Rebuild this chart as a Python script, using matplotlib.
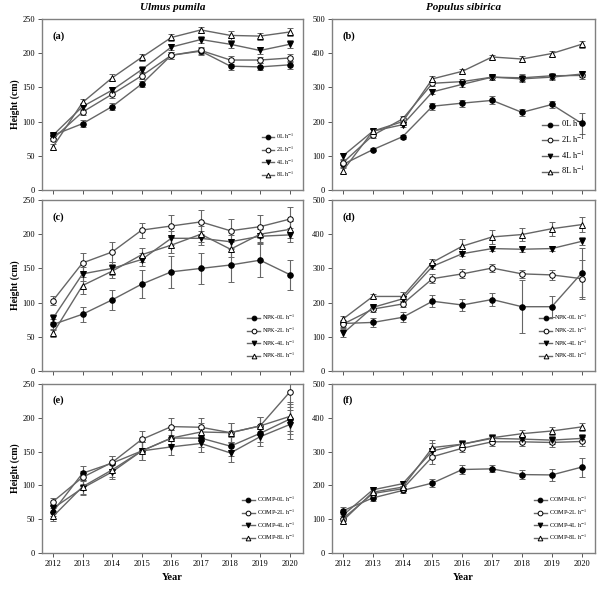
import matplotlib
matplotlib.use('Agg')
import matplotlib.pyplot as plt
from matplotlib.lines import Line2D

plt.rcParams['font.family'] = ['Liberation Serif', 'DejaVu Serif']
plt.rcParams['mathtext.fontset'] = 'stix'

years = [2012, 2013, 2014, 2015, 2016, 2017, 2018, 2019, 2020]

# (a) Ulmus pumila - water
a_0 = [80, 97, 122, 155, 197, 203, 181, 180, 183]
a_2 = [75, 114, 140, 167, 197, 204, 190, 190, 193]
a_4 = [80, 122, 146, 176, 209, 220, 213, 204, 213]
a_8 = [63, 128, 164, 194, 223, 234, 226, 225, 231]
a_err = [4, 5, 5, 5, 5, 5, 6, 5, 6]

# (b) Populus sibirica - water
b_0 = [75, 118, 156, 245, 254, 262, 227, 250, 195]
b_0e = [8, 5, 6, 10, 10, 12, 10, 10, 30]
b_2 = [80, 160, 208, 312, 317, 330, 328, 334, 335]
b_4 = [100, 172, 191, 287, 309, 330, 325, 330, 339]
b_8 = [57, 172, 200, 325, 347, 389, 383, 399, 426]
b_err = [8, 7, 7, 7, 7, 7, 10, 8, 10]

# (c) Ulmus pumila - NPK
c_0 = [68, 83, 104, 127, 145, 150, 155, 162, 141]
c_0e = [8, 11, 15, 20, 23, 23, 25, 24, 22]
c_2 = [103, 158, 174, 206, 212, 218, 205, 211, 222]
c_2e = [7, 14, 14, 11, 16, 17, 17, 17, 18]
c_4 = [77, 142, 150, 163, 194, 194, 189, 197, 199]
c_4e = [6, 10, 10, 10, 10, 10, 10, 10, 10]
c_8 = [55, 125, 146, 170, 184, 200, 178, 200, 207]
c_8e = [6, 12, 10, 10, 12, 12, 12, 12, 12]

# (d) Populus sibirica - NPK
d_0 = [139, 142, 157, 204, 193, 209, 188, 188, 286]
d_0e = [10, 12, 15, 18, 18, 20, 77, 30, 75]
d_2 = [137, 181, 196, 270, 284, 301, 284, 281, 270]
d_2e = [10, 8, 8, 14, 13, 12, 12, 14, 55]
d_4 = [110, 186, 211, 306, 343, 358, 356, 358, 379]
d_4e = [12, 8, 8, 8, 8, 8, 8, 8, 12]
d_8 = [152, 218, 218, 318, 365, 392, 399, 416, 428]
d_8e = [8, 6, 12, 10, 20, 20, 20, 20, 22]

# (e) Ulmus pumila - compost
e_0 = [61, 118, 133, 151, 170, 170, 158, 177, 198]
e_2 = [76, 112, 134, 168, 187, 186, 178, 188, 238]
e_4 = [66, 96, 120, 151, 157, 162, 148, 172, 190]
e_8 = [54, 98, 123, 151, 170, 179, 178, 188, 202]
e_err = [6, 10, 10, 13, 12, 13, 14, 13, 22]

# (f) Populus sibirica - compost
f_0 = [125, 163, 185, 207, 247, 249, 232, 231, 254]
f_0e = [10, 8, 8, 12, 12, 10, 14, 18, 28]
f_2 = [102, 176, 190, 285, 310, 329, 329, 327, 330]
f_4 = [112, 187, 205, 302, 322, 339, 337, 334, 339]
f_8 = [96, 180, 195, 312, 322, 341, 353, 361, 373]
f_err = [8, 8, 8, 22, 12, 12, 12, 12, 12]

water_labels = ['0L h$^{-1}$', '2L h$^{-1}$', '4L h$^{-1}$', '8L h$^{-1}$']
npk_labels = ['NPK-0L h$^{-1}$', 'NPK-2L h$^{-1}$', 'NPK-4L h$^{-1}$', 'NPK-8L h$^{-1}$']
comp_labels = ['COMP-0L h$^{-1}$', 'COMP-2L h$^{-1}$', 'COMP-4L h$^{-1}$', 'COMP-8L h$^{-1}$']

styles = [
    dict(marker='o', mfc='black'),
    dict(marker='o', mfc='white'),
    dict(marker='v', mfc='black'),
    dict(marker='^', mfc='white'),
]

panels = [
    ('(a)', [a_0, a_2, a_4, a_8], [a_err, a_err, a_err, a_err], water_labels, 250, 4.5),
    ('(b)', [b_0, b_2, b_4, b_8], [b_0e, b_err, b_err, b_err], water_labels, 500, 6.0),
    ('(c)', [c_0, c_2, c_4, c_8], [c_0e, c_2e, c_4e, c_8e], npk_labels, 250, 4.5),
    ('(d)', [d_0, d_2, d_4, d_8], [d_0e, d_2e, d_4e, d_8e], npk_labels, 500, 4.5),
    ('(e)', [e_0, e_2, e_4, e_8], [e_err, e_err, e_err, e_err], comp_labels, 250, 4.5),
    ('(f)', [f_0, f_2, f_4, f_8], [f_0e, f_err, f_err, f_err], comp_labels, 500, 4.5),
]

fig = plt.figure(figsize=(6.13, 5.91), dpi=100)
lefts = [42 / 613, 332 / 613]
widths = [261 / 613, 263 / 613]
rows = [(19, 190), (200, 371), (384, 553)]
line_col = '#666666'

for i, (tag, series, errs, labels, ymax, lfs) in enumerate(panels):
    r, c = divmod(i, 2)
    top, bot = rows[r]
    ax = fig.add_axes([lefts[c], 1 - bot / 591, widths[c], (bot - top) / 591])
    handles = []
    for s, e, lab, st in zip(series, errs, labels, styles):
        ax.errorbar(years, s, yerr=e, color=line_col, lw=1.0, capsize=2.2,
                    elinewidth=0.8, capthick=0.8, marker=st['marker'],
                    mfc=st['mfc'], mec='black', mew=0.7, ms=4)
        handles.append(Line2D([], [], color=line_col, lw=1.0, marker=st['marker'],
                              mfc=st['mfc'], mec='black', mew=0.7, ms=4,
                              label=lab))
    ax.set_xlim(2011.63, 2020.45)
    ax.set_ylim(0, ymax)
    ax.set_yticks(range(0, ymax + 1, ymax // 5))
    ax.set_xticks(years)
    for sp in ax.spines.values():
        sp.set_color('#808080')
        sp.set_linewidth(1.0)
    ax.tick_params(direction='out', length=3, width=0.7, color='#555555',
                   labelsize=6, pad=2)
    if r < 2:
        ax.set_xticklabels([])
    else:
        ax.set_xlabel('Year', fontsize=7.5, fontweight='bold', labelpad=4)
    if c == 0:
        ax.set_ylabel('Height (cm)', fontsize=7, fontweight='bold', labelpad=2)
    ax.text(0.04, 0.93, tag, transform=ax.transAxes, fontsize=7.5,
            fontweight='bold', va='top')
    ax.legend(handles=handles, loc='lower right', frameon=False, fontsize=lfs,
              handlelength=2.0, handletextpad=0.3, labelspacing=0.45,
              markerscale=0.85, bbox_to_anchor=(0.99, 0.03))

fig.text((42 + 303) / 2 / 613, 1 - 8 / 591, 'Ulmus pumila', ha='center',
         va='center', fontsize=8, fontstyle='italic', fontweight='bold')
fig.text((332 + 595) / 2 / 613, 1 - 8 / 591, 'Populus sibirica', ha='center',
         va='center', fontsize=8, fontstyle='italic', fontweight='bold')

fig.savefig('out.png', dpi=100)
